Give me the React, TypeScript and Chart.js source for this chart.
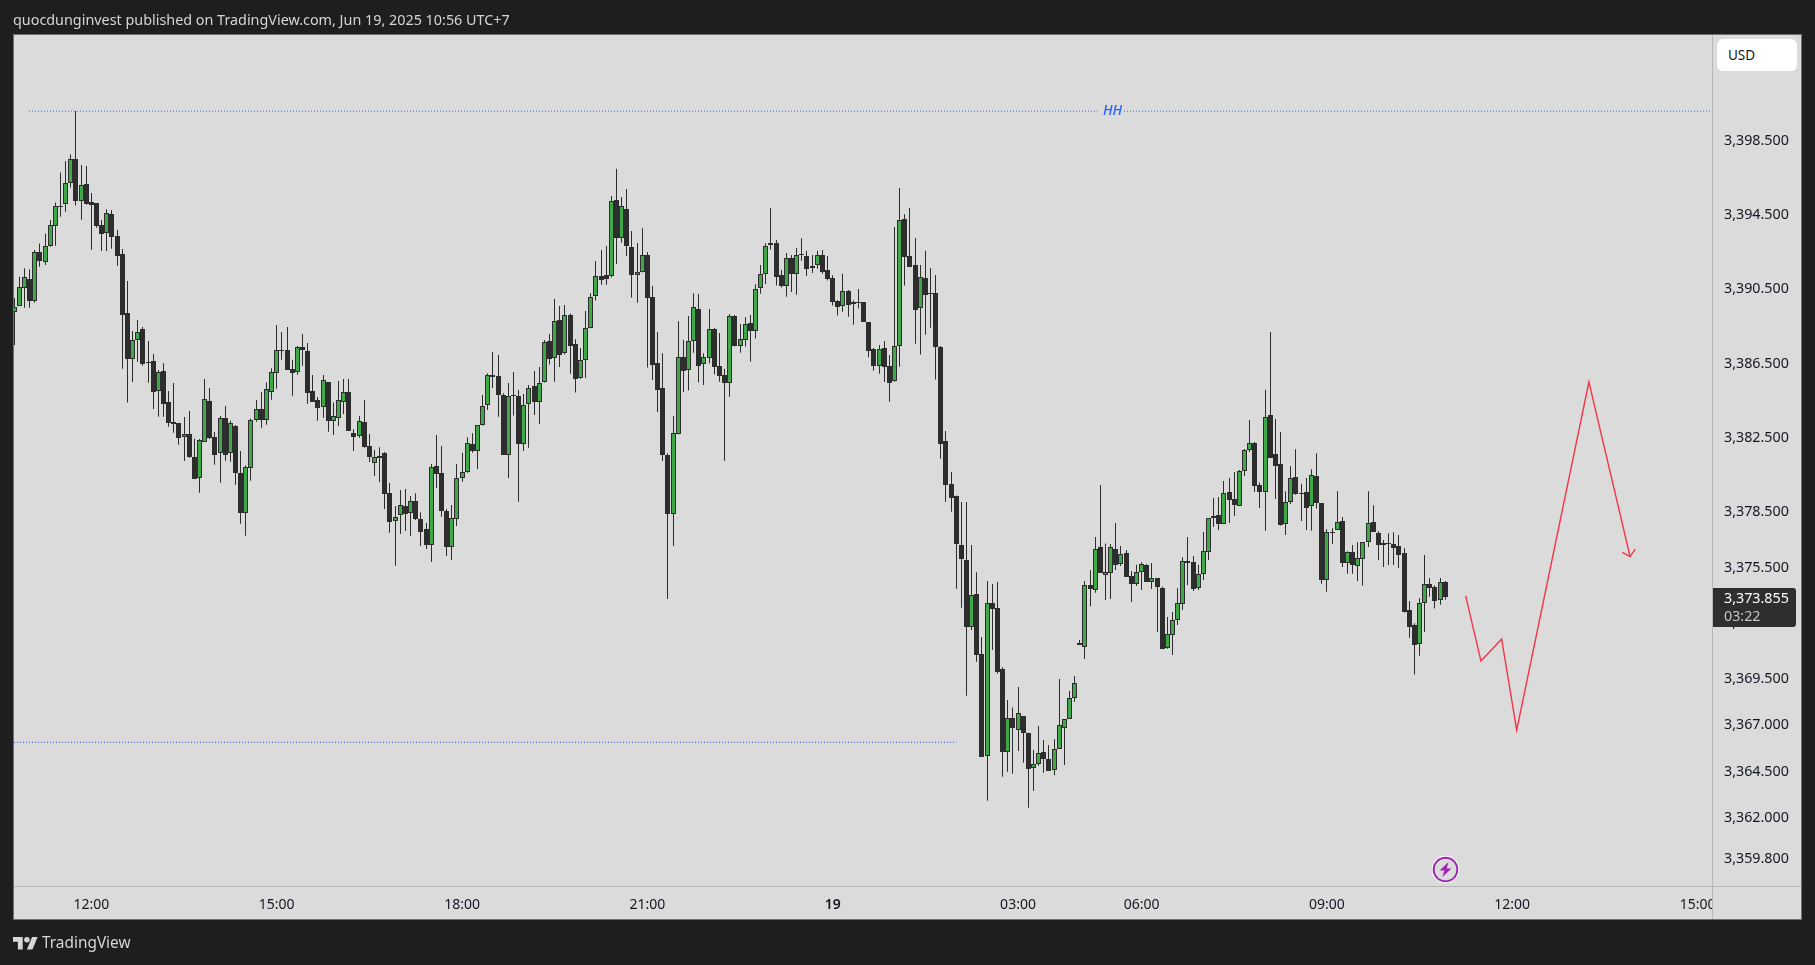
import React, { useEffect, useRef } from "react";
import { Chart, registerables } from "chart.js";

Chart.register(...registerables);

const opens = [
3389.24,3389.56,3390.53,3391.00,3389.83,3392.44,3391.94,3392.80,3393.88,3394.92,
3395.06,3396.16,3397.45,3395.19,3396.11,3395.13,3395.08,3393.90,3393.50,3394.49,
3393.30,3392.33,3389.15,3386.71,3387.70,3388.29,3386.51,3386.56,3384.98,3386.02,
3384.35,3383.27,3383.22,3382.50,3382.63,3381.39,3380.29,3382.23,3384.41,3382.47,
3381.64,3383.49,3381.60,3383.08,3380.53,3378.37,3380.79,3383.38,3383.98,3383.42,
3384.89,3385.92,3387.17,3387.16,3386.13,3386.01,3387.32,3387.10,3384.95,3384.46,
3384.08,3385.43,3383.37,3383.53,3384.39,3384.90,3382.69,3382.56,3383.28,3381.98,
3381.10,3381.37,3381.61,3379.45,3377.98,3378.26,3378.75,3378.41,3379.02,3378.05,
3377.51,3376.68,3380.91,3380.53,3378.48,3376.54,3378.05,3380.26,3380.58,3382.11,
3381.72,3383.12,3384.19,3385.81,3385.76,3384.77,3381.54,3384.73,3384.68,3382.09,
3384.25,3385.22,3384.36,3385.43,3387.65,3386.73,3388.78,3387.00,3389.05,3387.48,
3385.65,3386.62,3388.35,3390.07,3391.17,3391.20,3391.15,3395.25,3393.23,3394.76,
3392.71,3391.24,3391.36,3392.28,3390.04,3386.46,3385.11,3381.52,3378.32,3382.63,
3386.78,3386.08,3387.65,3389.39,3386.41,3386.73,3388.29,3386.30,3385.81,3385.38,
3389.01,3387.38,3387.70,3388.63,3388.18,3390.50,3391.26,3392.82,3392.93,3391.20,
3390.61,3392.12,3391.29,3392.34,3392.23,3391.58,3391.74,3392.28,3391.47,3391.04,
3389.82,3389.53,3390.34,3389.64,3389.75,3389.75,3388.67,3387.21,3386.30,3387.27,
3386.30,3385.49,3387.38,3394.22,3392.23,3391.74,3389.42,3391.04,3390.25,3390.23,
3387.32,3382.25,3379.94,3379.29,3376.65,3375.84,3372.26,3374.00,3370.77,3365.31,
3373.52,3373.25,3369.96,3365.52,3367.32,3366.71,3367.43,3366.53,3364.62,3364.84,
3365.49,3365.11,3364.52,3365.68,3366.82,3367.30,3368.40,3371.38,3371.18,3374.49,
3374.26,3376.54,3375.06,3375.17,3376.43,3375.66,3376.21,3374.98,3374.58,3375.19,
3375.58,3374.69,3374.87,3374.33,3371.09,3371.83,3372.60,3373.50,3375.78,3375.73,
3374.36,3375.12,3376.30,3378.10,3378.26,3377.81,3379.50,3379.13,3378.78,3380.63,
3381.80,3382.14,3379.88,3379.51,3383.66,3381.56,3381.02,3377.78,3378.97,3380.32,
3379.47,3379.51,3378.75,3380.39,3378.93,3374.80,3377.37,3377.50,3377.95,3375.68,
3376.27,3375.56,3375.90,3376.81,3377.89,3377.30,3376.65,3376.78,3376.72,3376.60,
3376.22,3373.15,3372.34,3371.35,3373.53,3374.55,3374.41,3373.69,3374.66,
];

const closes = [
3389.51,3390.59,3391.09,3389.83,3392.44,3391.97,3392.76,3393.90,3394.92,3394.86,
3396.16,3397.45,3395.22,3396.09,3395.06,3395.01,3393.88,3393.45,3394.54,3393.28,
3392.26,3389.08,3386.71,3387.70,3388.13,3386.44,3386.45,3384.93,3385.97,3384.28,
3383.26,3383.20,3382.45,3382.63,3381.42,3380.24,3382.30,3384.51,3382.45,3381.53,
3383.49,3381.53,3383.22,3380.56,3378.41,3380.85,3383.38,3383.98,3383.42,3385.05,
3385.97,3387.16,3387.11,3386.11,3385.95,3387.32,3387.16,3384.87,3384.39,3384.07,
3385.54,3383.36,3383.60,3384.46,3384.90,3382.81,3382.49,3383.33,3381.97,3381.43,
3381.39,3381.48,3379.43,3377.92,3378.19,3378.84,3378.35,3379.02,3378.09,3377.38,
3376.68,3380.89,3380.51,3378.52,3376.58,3378.10,3380.26,3380.58,3382.15,3381.73,
3383.12,3384.18,3385.81,3385.74,3384.77,3381.54,3384.72,3384.67,3382.13,3384.23,
3385.11,3384.39,3385.38,3387.59,3386.71,3388.76,3386.93,3389.05,3387.41,3385.63,
3386.62,3388.35,3390.02,3391.15,3390.97,3391.02,3395.19,3393.20,3394.92,3392.80,
3391.24,3391.36,3392.28,3390.00,3386.39,3385.04,3381.54,3378.35,3382.69,3386.78,
3386.06,3387.68,3389.48,3386.33,3386.78,3388.29,3386.28,3385.79,3385.38,3388.99,
3387.41,3387.75,3388.56,3388.18,3390.48,3391.26,3392.77,3392.93,3391.13,3390.65,
3392.12,3391.29,3392.28,3392.28,3391.56,3391.72,3392.28,3391.40,3391.02,3389.78,
3389.51,3390.34,3389.59,3389.75,3389.69,3388.69,3387.14,3386.33,3387.25,3386.28,
3385.42,3387.38,3394.17,3392.21,3391.67,3389.35,3391.10,3390.16,3390.19,3387.36,
3382.13,3379.92,3379.22,3376.74,3375.93,3372.26,3373.95,3370.75,3365.25,3373.52,
3373.23,3369.83,3365.52,3367.32,3366.82,3367.59,3366.55,3364.61,3364.84,3365.43,
3365.14,3364.50,3365.65,3366.94,3367.26,3368.40,3369.21,3371.29,3374.49,3374.29,
3376.43,3375.17,3375.19,3376.54,3375.60,3376.16,3374.96,3374.58,3375.19,3375.62,
3374.69,3374.87,3374.42,3371.07,3371.85,3372.60,3373.52,3375.78,3375.71,3374.31,
3375.08,3376.32,3378.10,3378.21,3377.81,3379.45,3379.11,3378.82,3380.63,3381.77,
3382.14,3379.86,3379.54,3383.55,3381.36,3380.95,3377.77,3378.97,3380.26,3379.44,
3379.41,3378.68,3380.43,3378.92,3374.80,3377.35,3377.31,3377.89,3375.72,3376.27,
3375.61,3375.95,3376.81,3377.84,3377.39,3376.69,3376.76,3376.72,3376.53,3376.15,
3373.08,3372.27,3371.30,3373.53,3374.55,3374.37,3373.67,3374.66,3373.86,
];

const highs = [
3389.96,3391.13,3391.58,3391.52,3392.57,3392.92,3393.46,3394.18,3395.13,3396.75,
3397.36,3397.72,3400.06,3397.15,3397.09,3395.64,3395.08,3394.18,3394.76,3394.72,
3393.64,3392.62,3390.89,3388.20,3388.79,3388.41,3387.66,3386.96,3386.10,3386.46,
3384.96,3385.40,3383.22,3383.56,3383.89,3382.41,3382.38,3385.61,3385.13,3382.75,
3383.62,3384.16,3383.36,3383.13,3381.73,3380.97,3383.49,3384.48,3384.91,3385.43,
3386.19,3388.52,3388.14,3388.41,3386.65,3387.39,3388.04,3387.55,3385.83,3384.64,
3385.83,3385.45,3384.34,3385.51,3385.61,3385.61,3382.90,3383.62,3384.48,3382.65,
3381.79,3381.93,3381.68,3380.01,3378.77,3379.63,3379.68,3379.31,3379.45,3378.43,
3377.85,3381.03,3382.60,3382.00,3378.61,3378.82,3381.03,3381.64,3382.47,3382.69,
3383.12,3384.75,3385.92,3387.07,3386.91,3384.84,3385.40,3385.99,3385.02,3384.81,
3385.29,3386.05,3386.26,3387.72,3388.04,3389.93,3389.55,3389.60,3389.14,3387.75,
3387.29,3389.28,3390.23,3391.98,3392.57,3392.78,3395.48,3396.94,3395.43,3395.86,
3393.59,3392.95,3393.74,3392.46,3390.63,3388.15,3387.00,3381.61,3383.62,3388.72,
3387.72,3389.01,3390.23,3390.20,3387.00,3389.39,3388.36,3388.09,3386.17,3389.12,
3389.06,3388.58,3388.94,3389.06,3390.72,3391.76,3392.93,3394.83,3393.11,3391.49,
3392.41,3392.30,3392.68,3393.20,3392.52,3392.30,3392.52,3392.57,3392.25,3391.20,
3389.87,3391.28,3390.41,3389.84,3390.47,3389.75,3388.69,3387.29,3387.45,3387.66,
3386.91,3393.81,3395.91,3394.49,3394.83,3393.22,3391.76,3392.52,3391.60,3391.22,
3387.39,3382.81,3380.60,3379.34,3378.98,3378.98,3376.66,3375.19,3371.70,3374.72,
3374.56,3374.67,3370.07,3368.31,3367.91,3369.01,3367.44,3366.55,3365.61,3366.91,
3366.15,3365.88,3366.19,3369.44,3367.26,3368.79,3369.60,3371.54,3374.72,3375.32,
3377.09,3379.90,3376.75,3376.72,3377.85,3376.61,3376.39,3375.26,3375.60,3375.73,
3375.64,3375.69,3374.87,3374.42,3372.78,3373.05,3374.34,3376.00,3377.09,3376.07,
3375.60,3377.36,3378.10,3379.20,3379.25,3380.11,3380.27,3380.60,3380.71,3381.84,
3383.40,3382.22,3380.04,3385.03,3388.15,3383.46,3382.76,3379.56,3380.93,3381.83,
3379.96,3380.28,3380.75,3381.61,3378.93,3377.51,3377.57,3379.56,3378.18,3376.33,
3376.67,3376.81,3376.83,3379.56,3378.81,3377.41,3376.94,3377.30,3377.35,3377.21,
3376.49,3373.65,3372.45,3373.80,3376.13,3374.89,3374.50,3374.89,3374.73,
];

const lows = [
3387.44,3389.56,3389.46,3389.46,3389.73,3391.67,3391.76,3392.74,3392.80,3394.36,
3394.63,3395.93,3394.96,3394.20,3395.01,3392.58,3393.77,3392.51,3392.51,3392.64,
3391.72,3386.17,3384.34,3385.45,3386.53,3386.33,3385.41,3383.99,3383.58,3383.58,
3383.04,3382.72,3382.07,3381.19,3381.37,3380.24,3379.48,3382.23,3382.38,3380.99,
3380.02,3381.21,3381.15,3379.91,3377.81,3377.16,3380.13,3383.31,3382.99,3383.15,
3384.50,3385.09,3386.65,3386.11,3384.71,3385.84,3386.33,3384.28,3384.39,3383.36,
3383.53,3382.77,3382.60,3383.08,3383.73,3382.81,3381.73,3382.45,3381.91,3381.14,
3380.39,3380.06,3378.61,3377.33,3375.55,3377.26,3377.42,3377.15,3378.01,3376.61,
3376.45,3375.75,3379.74,3378.19,3376.07,3375.86,3377.69,3380.08,3380.56,3381.64,
3380.76,3383.10,3383.94,3385.13,3383.58,3381.52,3380.28,3383.64,3379.00,3381.73,
3381.91,3383.67,3383.19,3385.43,3386.39,3385.47,3386.26,3386.93,3385.90,3384.88,
3385.63,3385.67,3388.35,3389.84,3390.70,3390.70,3391.08,3391.81,3392.96,3392.25,
3390.00,3389.73,3391.35,3386.23,3385.56,3383.84,3381.19,3373.75,3376.61,3382.63,
3384.91,3384.99,3387.03,3385.42,3385.29,3386.46,3385.85,3385.47,3381.21,3384.66,
3387.36,3387.03,3387.36,3386.55,3387.79,3390.21,3390.74,3392.59,3390.65,3390.54,
3390.05,3390.30,3390.16,3391.99,3391.17,3391.33,3391.56,3391.28,3390.92,3389.57,
3389.03,3389.24,3388.97,3388.54,3389.42,3388.69,3386.78,3386.06,3385.90,3385.45,
3384.39,3385.47,3386.28,3390.65,3391.65,3387.52,3386.93,3388.00,3388.38,3385.58,
3381.32,3379.00,3378.46,3374.31,3373.28,3368.54,3372.08,3370.37,3365.25,3362.88,
3371.00,3369.74,3364.17,3364.44,3364.34,3365.56,3364.93,3362.50,3363.40,3364.77,
3364.39,3364.50,3364.26,3365.68,3364.80,3367.30,3368.20,3371.27,3370.52,3373.37,
3374.09,3375.17,3373.70,3373.75,3375.32,3375.53,3374.96,3373.59,3374.45,3374.24,
3374.69,3374.29,3371.97,3371.07,3371.07,3370.73,3372.35,3373.16,3374.51,3374.18,
3374.24,3374.78,3375.85,3377.63,3377.47,3377.81,3377.85,3378.23,3378.78,3380.38,
3381.68,3379.52,3378.66,3377.43,3381.36,3379.15,3377.71,3377.21,3378.88,3379.37,
3377.96,3377.48,3377.43,3378.63,3374.57,3374.14,3376.72,3377.48,3375.48,3375.11,
3375.11,3374.73,3374.48,3376.56,3377.39,3375.86,3375.48,3375.59,3375.59,3375.43,
3373.02,3371.67,3369.68,3370.70,3371.98,3373.88,3373.24,3373.44,3373.71,
];

const priceTicks = [3398.5, 3394.5, 3390.5, 3386.5, 3382.5, 3378.5, 3375.5, 3372.5, 3369.5, 3367, 3364.5, 3362, 3359.8];
const timeTickIndex = [15, 51, 87, 123, 159, 195, 219, 255, 291, 327];
const timeTickLabels = ["12:00", "15:00", "18:00", "21:00", "19", "03:00", "06:00", "09:00", "12:00", "15:00"];

const hhLevel = 3400.05;
const hhLeft = [2.88, 210.5];
const hhRight = [215.6, 329.4];
const lowLevel = 3366.03;
const lowRange = [-0.03, 183.0];
const forecastX = [281.96, 284.93, 288.95, 291.87, 305.9, 313.9];
const forecastY = [3373.92, 3370.41, 3371.6, 3366.69, 3385.45, 3376.04];
const arrowX = [312.4, 313.9, 314.9];
const arrowY = [3376.27, 3376.04, 3376.44];

const PANE = "#dbdbdb";
const DARK = "#1e1e1e";
const CANDLE = "#2d2d2d";
const GREEN = "#41a84a";
const TEXT_FONT = '"Noto Sans", sans-serif';

const wicks = highs.map((h, i) => ({ x: i, y: [lows[i], h] }));
const upBodies = opens.flatMap((o, i) => (closes[i] > o ? [{ x: i, y: [o, closes[i]] }] : []));
const downBodies = opens.flatMap((o, i) => (closes[i] > o ? [] : [{ x: i, y: [closes[i], o] }]));

const chrome = {
  id: "chrome",
  beforeDraw(chart: any) {
    const { ctx, width, height } = chart;
    ctx.save();
    ctx.fillStyle = DARK;
    ctx.fillRect(0, 0, width, height);
    ctx.fillStyle = PANE;
    ctx.fillRect(13, 34, 1789, 886);
    ctx.restore();
  },
  afterDatasetsUpdate(chart: any) {
    chart.data.datasets.forEach((d: any, di: number) => {
      if (d.type !== "bar") return;
      chart.getDatasetMeta(di).data.forEach((el: any) => {
        el.x = Math.floor(el.x) + 0.5;
        if (d.snapY) {
          const top = Math.round(Math.min(el.y, el.base));
          const bottom = Math.max(top + 1, Math.round(Math.max(el.y, el.base)));
          el.y = top;
          el.base = bottom;
        }
      });
    });
  },
  afterDatasetsDraw(chart: any) {
    const { ctx } = chart;
    ctx.save();
    ctx.fillStyle = PANE;
    ctx.fillRect(1712, 34, 90, 886);
    ctx.fillStyle = "#b7b7b7";
    ctx.fillRect(1712, 34, 1, 886);
    ctx.fillRect(13, 886, 1789, 1);
    ctx.strokeStyle = "#6f6f6f";
    ctx.lineWidth = 1;
    ctx.strokeRect(13.5, 34.5, 1788, 885);
    ctx.restore();
  },
};

function App() {
  const ref = useRef<HTMLCanvasElement>(null);
  useEffect(() => {
    document.body.style.margin = "0";
    document.body.style.background = DARK;
    const chart = new Chart(ref.current as HTMLCanvasElement, {
      type: "bar",
      data: {
        datasets: [
          { type: "bar", data: wicks, barThickness: 1, backgroundColor: CANDLE, borderWidth: 0, inflateAmount: 0, grouped: false, order: 5 },
          { type: "bar", snapY: true, data: downBodies, barThickness: 5, backgroundColor: CANDLE, borderWidth: 0, inflateAmount: 0, grouped: false, order: 4 },
          { type: "bar", snapY: true, data: upBodies, barThickness: 5, backgroundColor: GREEN, borderColor: CANDLE, borderWidth: 1, borderSkipped: false, inflateAmount: 0, grouped: false, order: 3 },
          { type: "line", data: hhLeft.map((x) => ({ x, y: hhLevel })), borderColor: "#2962ff", borderWidth: 1, borderDash: [1, 2], pointRadius: 0, order: 2 },
          { type: "line", data: hhRight.map((x) => ({ x, y: hhLevel })), borderColor: "#2962ff", borderWidth: 1, borderDash: [1, 2], pointRadius: 0, order: 2 },
          { type: "line", data: lowRange.map((x) => ({ x, y: lowLevel })), borderColor: "#3050d8", borderWidth: 1, borderDash: [1, 2], pointRadius: 0, order: 2 },
          { type: "line", data: forecastX.map((x, i) => ({ x, y: forecastY[i] })), borderColor: "#f23645", borderWidth: 1.4, pointRadius: 0, tension: 0, order: 1 },
          { type: "line", data: arrowX.map((x, i) => ({ x, y: arrowY[i] })), borderColor: "#f23645", borderWidth: 1.4, pointRadius: 0, tension: 0, order: 1 },
        ] as any,
      },
      options: {
        responsive: false,
        animation: false,
        events: [],
        layout: { autoPadding: false, padding: { left: 14, top: 34, right: 14, bottom: 45 } },
        plugins: { legend: { display: false }, tooltip: { enabled: false }, title: { display: false } },
        scales: {
          x: {
            type: "linear",
            min: -0.033,
            max: 329.81,
            offset: false,
            grid: { display: false, drawTicks: false },
            border: { display: false },
            afterFit(s: any) { s.height = 33; },
            afterBuildTicks(s: any) { s.ticks = timeTickIndex.map((value) => ({ value })); },
            ticks: {
              z: 0,
              autoSkip: false,
              maxRotation: 0,
              minRotation: 0,
              padding: 10,
              color: "#131722",
              font: (c: any) => ({ family: TEXT_FONT, size: 14, weight: c.tick && c.tick.label === "19" ? "600" : "normal" }),
              callback: (v: any) => timeTickLabels[timeTickIndex.indexOf(Number(v))],
            },
          },
          y: {
            position: "right",
            min: 3358.23,
            max: 3404.21,
            grid: { display: false, drawTicks: false },
            border: { display: false },
            afterFit(s: any) { s.width = 89; },
            afterBuildTicks(s: any) { s.ticks = priceTicks.map((value) => ({ value })); },
            ticks: {
              z: 1,
              autoSkip: false,
              padding: 12,
              labelOffset: 1,
              color: "#131722",
              font: { family: TEXT_FONT, size: 14.3 },
              callback: (v: any) => Number(v).toLocaleString("en-US", { minimumFractionDigits: 3, maximumFractionDigits: 3 }),
            },
          },
        },
      } as any,
      plugins: [chrome],
    });
    return () => chart.destroy();
  }, []);

  const abs = (o: React.CSSProperties): React.CSSProperties => ({ position: "absolute", whiteSpace: "nowrap", fontFamily: TEXT_FONT, ...o });

  return (
    <div style={{ position: "fixed", left: 0, top: 0, width: 1815, height: 965, background: DARK, overflow: "hidden" }}>
      <canvas ref={ref} width={1815} height={965} style={{ position: "absolute", left: 0, top: 0, width: 1815, height: 965 }} />
      <div style={abs({ left: 13, top: 10, fontSize: 14.37, lineHeight: "20px", color: "#d6d6d6" })}>
        quocdunginvest published on TradingView.com, Jun 19, 2025 10:56 UTC+7
      </div>
      <div style={abs({ left: 1103, top: 100, fontSize: 14, lineHeight: "20px", fontStyle: "italic", fontWeight: 500, color: "#2962ff" })}>HH</div>
      <div style={abs({ left: 1717, top: 39, width: 80, height: 32, background: "#ffffff", borderRadius: 6, boxSizing: "border-box", paddingLeft: 11, fontSize: 13.5, lineHeight: "32px", color: "#131722" })}>USD</div>
      <div style={abs({ left: 1713, top: 588, width: 83, height: 39, background: "#2e2e2e", borderRadius: "0 3px 3px 0", boxSizing: "border-box", paddingLeft: 11, fontSize: 14.3, lineHeight: "18px", color: "#ffffff", paddingTop: 1 })}>
        <div>3,373.855</div>
        <div style={{ color: "#c4c4c4" }}>03:22</div>
      </div>
      <svg style={{ position: "absolute", left: 1431, top: 855 }} width="29" height="29" viewBox="-14.5 -14.5 29 29">
        <circle r="13.8" fill="#ffffff" />
        <circle r="11.8" fill={PANE} stroke="#9c27b0" strokeWidth="2" />
        <path d="M3,-7.5 L-6,1 L-1.2,1 L-3,7.5 L6,-1 L1.2,-1 Z" fill="#9c27b0" />
      </svg>
      <svg style={{ position: "absolute", left: 12.7, top: 937 }} width="25" height="12.5" viewBox="0 4 36 18">
        <path d="M14 22H7V11H0V4h14v18zM28 22h-8l7.5-18h8L28 22z" fill="#d6d6d6" />
        <circle cx="20" cy="8" r="4" fill="#d6d6d6" />
      </svg>
      <div style={abs({ left: 42, top: 932, fontSize: 15.4, lineHeight: "22px", color: "#d6d6d6" })}>TradingView</div>
    </div>
  );
}

export default App;
